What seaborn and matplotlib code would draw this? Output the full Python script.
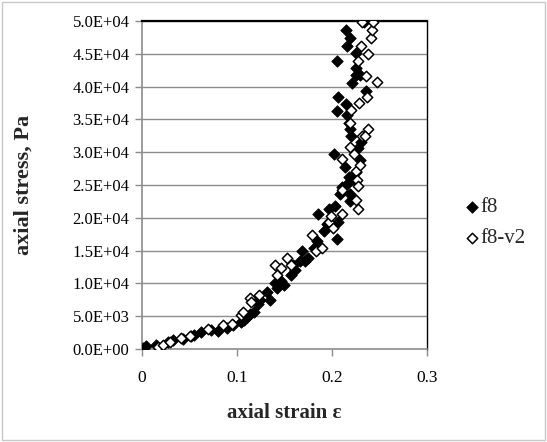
import matplotlib
matplotlib.use("Agg")
import matplotlib.pyplot as plt
import matplotlib.ticker as mticker
import seaborn as sns
import pandas as pd
from matplotlib.patches import Rectangle

# f8 (filled diamonds)
f8_strain = [0.001, 0.004, 0.015, 0.027, 0.033, 0.043, 0.052, 0.055, 0.062, 0.073,
             0.080, 0.089, 0.096, 0.104, 0.107, 0.111, 0.114, 0.118, 0.122, 0.124,
             0.132, 0.135, 0.142, 0.140, 0.146, 0.149, 0.157, 0.161, 0.159, 0.166,
             0.168, 0.172, 0.175, 0.181, 0.184, 0.185, 0.192, 0.195, 0.197, 0.203,
             0.205, 0.206, 0.202, 0.208, 0.211, 0.214, 0.216, 0.218, 0.219, 0.219,
             0.223, 0.225, 0.227, 0.229, 0.230, 0.205, 0.206, 0.215, 0.216, 0.218,
             0.219, 0.220, 0.205, 0.216, 0.215, 0.219, 0.221, 0.225, 0.225, 0.225,
             0.229, 0.236, 0.234]
f8_stress = [150, 400, 670, 1000, 1300, 1500, 1950, 2200, 2570, 2900,
             2800, 3200, 3600, 4100, 4400, 4900, 5400, 5650, 6900, 7400,
             8700, 7450, 9250, 10000, 10300, 9750, 11300, 12100, 12850, 13350,
             14900, 13350, 13900, 15400, 16450, 20550, 18000, 19000, 21300, 21850,
             16700, 19300, 29800, 23650, 24650, 27750, 25200, 26200, 22600, 23600,
             25900, 27000, 30600, 28800, 31600, 36300, 38400, 37400, 35600, 34400,
             33500, 32500, 43900, 46200, 48700, 47400, 40500, 41700, 42900, 45100,
             41700, 39400, 49900]

# f8-v2 (open diamonds)
v2_strain = [0.017, 0.022, 0.030, 0.041, 0.051, 0.070, 0.085, 0.095, 0.104, 0.106,
             0.114, 0.115, 0.123, 0.140, 0.142, 0.146, 0.153, 0.157, 0.179, 0.183,
             0.189, 0.197, 0.201, 0.199, 0.210, 0.210, 0.211, 0.219, 0.219, 0.220,
             0.223, 0.225, 0.226, 0.227, 0.225, 0.227, 0.228, 0.230, 0.227, 0.229,
             0.232, 0.236, 0.237, 0.238, 0.238, 0.247, 0.241, 0.242, 0.232, 0.243,
             0.235]
v2_stress = [260, 620, 1130, 1640, 1950, 2980, 3600, 3850, 5140, 5650,
             7700, 7200, 8300, 12850, 11300, 12350, 13900, 12850, 17350, 14900,
             15400, 19400, 18500, 20300, 28950, 24300, 20550, 34400, 30800, 36500,
             29800, 27200, 25800, 24800, 22700, 21300, 37500, 46200, 43900, 28100,
             32500, 41600, 38400, 45000, 33500, 40700, 47400, 48600, 49900, 49900,
             32400]

x_ticks = [0, 0.1, 0.2, 0.3]
x_tick_labels = ["0", "0.1", "0.2", "0.3"]
y_ticks = [0, 5000, 10000, 15000, 20000, 25000, 30000, 35000, 40000, 45000, 50000]

df = pd.concat([
    pd.DataFrame({"strain": f8_strain, "stress": f8_stress, "series": "f8"}),
    pd.DataFrame({"strain": v2_strain, "stress": v2_stress, "series": "f8-v2"}),
])

sns.set_theme(style="white")
plt.rcParams["font.family"] = ["Liberation Serif", "DejaVu Serif"]

fig = plt.figure(figsize=(5.47, 4.42), dpi=100)
ax = fig.add_axes([142 / 547, 1 - 349 / 442, (427 - 142) / 547, (349 - 21) / 442])

grid_c = "#8c8c8c"
for yt in y_ticks[1:]:
    ax.axhline(yt, color=grid_c, lw=1.0, zorder=0)

sns.scatterplot(data=df[df.series == "f8"], x="strain", y="stress", ax=ax,
                marker="D", s=34, color="black", edgecolor="black", linewidth=0.6,
                label="f8", zorder=3)
sns.scatterplot(data=df[df.series == "f8-v2"], x="strain", y="stress", ax=ax,
                marker="D", s=28, facecolor="white", edgecolor="black", linewidth=1.1,
                label="f8-v2", zorder=4)

ax.set_xlim(0, 0.3)
ax.set_ylim(0, 50000)
ax.set_xticks(x_ticks)
ax.set_xticklabels(x_tick_labels)
ax.set_yticks(y_ticks)
ax.yaxis.set_major_formatter(mticker.FuncFormatter(lambda v, p: f"{v:.1E}"))
ax.tick_params(axis="both", direction="out", length=5, width=1, color=grid_c,
               labelsize=12, labelcolor="black", pad=4, left=True, bottom=True)
ax.tick_params(axis="x", pad=10, labelsize=12.5)

for side in ["left", "bottom"]:
    ax.spines[side].set_color(grid_c)
    ax.spines[side].set_linewidth(1.2)
for side in ["top", "right"]:
    ax.spines[side].set_color("black")
    ax.spines[side].set_linewidth(1.0)
ax.spines["top"].set_linewidth(1.6)

ax.set_xlabel("axial strain ε", fontsize=15, fontweight="bold", labelpad=12)
ax.set_ylabel("axial stress, Pa", fontsize=16, fontweight="bold", labelpad=28)

leg = ax.legend(loc="center left", bbox_to_anchor=(1.10, 0.385), frameon=False,
                fontsize=15, handletextpad=0.0, labelspacing=0.55, handlelength=0.8,
                borderaxespad=0)

fig.patches.append(Rectangle((2 / 547, 2 / 442), 543 / 547, 438 / 442,
                             transform=fig.transFigure, fill=False,
                             edgecolor="#c8c8c8", lw=1.0))

fig.savefig("out.png", dpi=100)
